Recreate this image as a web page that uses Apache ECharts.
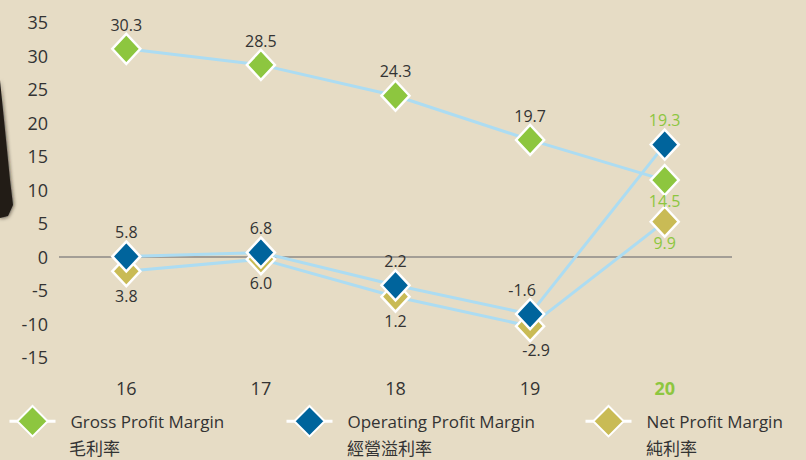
<!DOCTYPE html>
<html>
<head>
<meta charset="utf-8">
<script src="https://cdn.jsdelivr.net/npm/echarts@6/dist/echarts.min.js"></script>
<style>
  html, body { margin: 0; padding: 0; background: #e6dcc5; }
  #chart { width: 806px; height: 460px; }
</style>
</head>
<body>
<div id="chart"></div>
<script>
var categories = ['16', '17', '18', '19', '20'];
var yTicks = [-15, -10, -5, 0, 5, 10, 15, 20, 25, 30, 35];

// plotted positions
var grossPos = [31.0, 28.6, 24.0, 17.4, 11.4];
var operatingPos = [0.0, 0.6, -4.3, -8.6, 16.7];
var netPos = [-2.2, -0.4, -6.0, -10.4, 5.2];

// printed value labels
var grossLabels = ['30.3', '28.5', '24.3', '19.7', '14.5'];
var operatingLabels = ['5.8', '6.8', '2.2', '-1.6', '19.3'];
var netLabels = ['3.8', '6.0', '1.2', '-2.9', '9.9'];

var seriesNames = ['Gross Profit Margin', 'Operating Profit Margin', 'Net Profit Margin'];
var seriesNamesCn = ['毛利率', '經營溢利率', '純利率'];

(function() {
  var ink = '#333';
  var green = '#8dc63f';
  var blue = '#00649c';
  var olive = '#c9bb55';
  var lineBlue = '#acdcf2';
  var font = '"Open Sans", "Noto Sans CJK TC", sans-serif';
  var cnFont = '"Noto Sans CJK TC", sans-serif';
  var last = categories.length - 1;

  function buildData(pos, labels, place, shifts) {
    return pos.map(function(v, i) {
      var isLast = i === last;
      return {
        value: v,
        label: {
          formatter: labels[i],
          position: isLast ? place[1] : place[0],
          distance: isLast && place[1] === 'bottom' ? -3 : 0,
          offset: [(shifts && shifts[i]) || 0, 0],
          color: isLast ? green : ink
        }
      };
    });
  }

  function lineSeries(name, color, data, z) {
    return {
      name: name,
      type: 'line',
      data: data,
      z: z,
      symbol: 'diamond',
      symbolSize: [28, 30],
      lineStyle: { color: lineBlue, width: 3 },
      itemStyle: { color: color, borderColor: '#fff', borderWidth: 2.5 },
      label: {
        show: true,
        fontSize: 16,
        fontFamily: font
      }
    };
  }

  // icon + English name
  function legendFor(i, left) {
    return {
      data: [seriesNames[i]],
      left: left,
      top: 405,
      padding: 0,
      itemWidth: 46,
      itemHeight: 38,
      lineStyle: { color: '#fff', width: 3 },
      textStyle: {
        color: ink,
        fontSize: 17,
        fontFamily: font,
        padding: [6, 0, 0, 10]
      },
      selectedMode: false
    };
  }

  // Chinese name under it, no icon
  function legendCn(i, left) {
    return {
      data: [seriesNames[i]],
      left: left,
      top: 437,
      padding: 0,
      icon: 'none',
      itemWidth: 1,
      itemHeight: 20,
      formatter: function() { return seriesNamesCn[i]; },
      textStyle: { color: ink, fontSize: 17, fontFamily: cnFont },
      selectedMode: false
    };
  }

  var chart = echarts.init(document.getElementById('chart'), null, { renderer: 'svg' });
  chart.setOption({
    animation: false,
    backgroundColor: '#e6dcc5',
    graphic: [{
      type: 'polygon',
      shape: { points: [[0, 80], [2, 100], [6, 140], [10, 180], [13, 205], [8, 216], [0, 218]] },
      style: { fill: '#221e19', shadowBlur: 4, shadowColor: '#221e19' },
      z: -1
    }],
    grid: { left: 59, width: 673, top: 22, height: 335 },
    xAxis: {
      type: 'category',
      data: categories,
      axisLine: { show: false, onZero: false },
      axisTick: { show: false },
      axisLabel: {
        margin: 22,
        fontSize: 18,
        fontFamily: font,
        color: ink,
        formatter: function(v, i) { return i === last ? '{hl|' + v + '}' : v; },
        rich: { hl: { color: green, fontWeight: 'bold', fontSize: 18, fontFamily: font } }
      }
    },
    yAxis: {
      type: 'value',
      min: yTicks[0],
      max: yTicks[yTicks.length - 1],
      interval: 5,
      axisLine: { show: false },
      axisTick: { show: false },
      splitLine: { show: false },
      axisLabel: { margin: 11, fontSize: 18, fontFamily: font, color: ink }
    },
    legend: [
      legendFor(0, 8), legendFor(1, 285), legendFor(2, 584),
      legendCn(0, 63), legendCn(1, 341), legendCn(2, 640)
    ],
    series: [
      Object.assign(lineSeries(seriesNames[2], olive,
        buildData(netPos, netLabels, ['bottom', 'bottom'], [0, 0, 0, 6, 0]), 2), {
        markLine: {
          silent: true,
          symbol: 'none',
          label: { show: false },
          lineStyle: { color: '#8c8a86', width: 1.5, type: 'solid' },
          data: [{ yAxis: 0 }],
          z: 1
        }
      }),
      lineSeries(seriesNames[0], green, buildData(grossPos, grossLabels, ['top', 'bottom']), 3),
      lineSeries(seriesNames[1], blue,
        buildData(operatingPos, operatingLabels, ['top', 'top'], [0, 0, 0, -8, 0]), 4)
    ]
  });
  window.addEventListener('resize', function() { chart.resize(); });
})();
</script>
</body>
</html>
